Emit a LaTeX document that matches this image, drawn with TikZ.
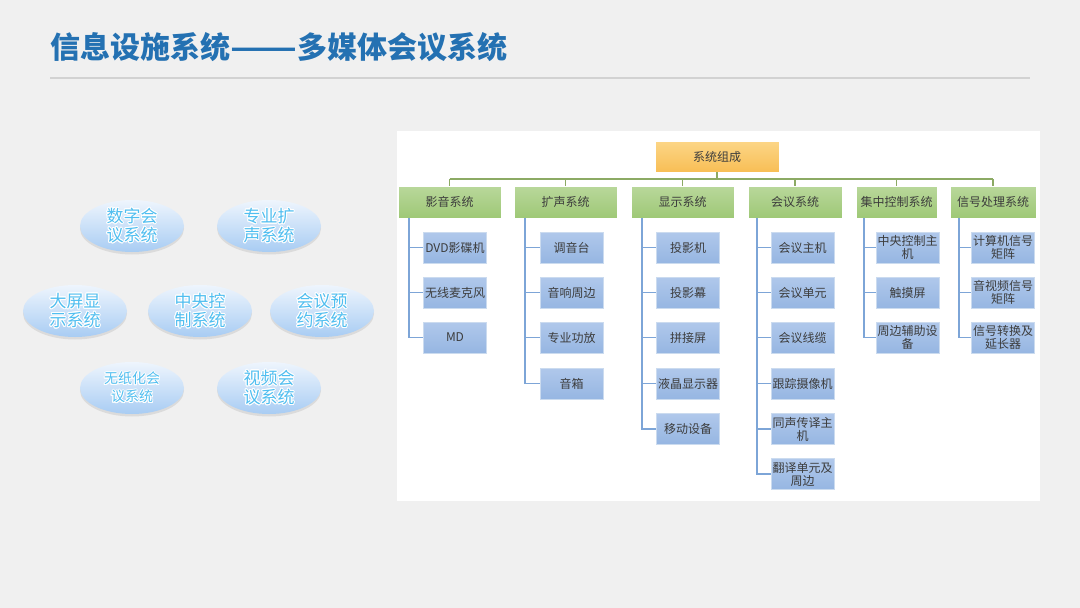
\documentclass[tikz,border=0pt]{standalone}
\usepackage{fontspec}
\setmainfont{Noto Sans CJK SC}
\usepackage{contour}
\contourlength{0.9pt}
\usepackage{tikz}
\usetikzlibrary{shapes.geometric, shadows}
\usepackage{xcolor}

\definecolor{pagegray}{RGB}{240,240,240}
\definecolor{titleblue}{RGB}{36,113,178}
\definecolor{rulegray}{RGB}{210,210,210}
\definecolor{textgray}{RGB}{60,60,60}
\definecolor{busgreen}{RGB}{140,170,100}
\definecolor{lineblue}{RGB}{125,165,215}
\definecolor{bubbletext}{RGB}{80,190,240}

\tikzset{
  rootbox/.style={draw=white, top color={rgb,255:red,252;green,214;blue,135}, bottom color={rgb,255:red,248;green,190;blue,85}, minimum width=124pt, minimum height=31pt, inner sep=0pt, text=textgray, font=\fontsize{12}{13}\selectfont},
  sysbox/.style={draw=white, top color={rgb,255:red,185;green,216;blue,155}, bottom color={rgb,255:red,158;green,200;blue,118}, minimum height=32pt, inner sep=0pt, text=textgray, font=\fontsize{12}{13}\selectfont},
  leafbox/.style={draw=white!60!lineblue, top color={rgb,255:red,176;green,200;blue,235}, bottom color={rgb,255:red,150;green,182;blue,226}, minimum width=63pt, minimum height=31pt, inner sep=0pt, align=center, text=textgray, font=\fontsize{12}{13}\selectfont},
  busline/.style={draw=busgreen, line width=1.2pt},
  leafline/.style={draw=lineblue, line width=1.2pt},
  bubble/.style={ellipse, draw=none, top color={rgb,255:red,238;green,245;blue,253}, bottom color={rgb,255:red,168;green,204;blue,243}, minimum width=104pt, minimum height=52pt, inner sep=0pt, align=center, text=bubbletext, font=\fontsize{17}{19}\selectfont, drop shadow={shadow xshift=0pt, shadow yshift=-2.5pt, opacity=0.18}}
}

\begin{document}
\begin{tikzpicture}[x=1pt,y=1pt,yscale=-1,xscale=1]
\useasboundingbox (0,0) rectangle (1080,608);

%Shape: Background
\fill[pagegray] (0,0) rectangle (1080,608);

% Title
\node[anchor=west, inner sep=0pt, text=titleblue, font=\fontsize{30}{32}\selectfont\bfseries] (title) at (50,47) {信息设施系统\scalebox{1.3}[1]{——}多媒体会议系统};
%Straight Lines: rule under title
\draw[rulegray, line width=1.5pt] (50,78) -- (1030,78);

%Ellipses: subsystems
\node[bubble] (szhy) at (132,226) {\contour{white}{数字会}\\\contour{white}{议系统}};
\node[bubble] (zykg) at (269,226) {\contour{white}{专业扩}\\\contour{white}{声系统}};
\node[bubble] (dpxs) at (75,311) {\contour{white}{大屏显}\\\contour{white}{示系统}};
\node[bubble] (zykz) at (200,311) {\contour{white}{中央控}\\\contour{white}{制系统}};
\node[bubble] (hyyy) at (322,311) {\contour{white}{会议预}\\\contour{white}{约系统}};
\node[bubble, font=\fontsize{14}{18}\selectfont] (wzh) at (132,388) {\contour{white}{无纸化会}\\\contour{white}{议系统}};
\node[bubble] (sphy) at (269,388) {\contour{white}{视频会}\\\contour{white}{议系统}};

%Shape: white panel of the chart
\fill[white] (397,131) rectangle (1040,501);

% Root
\node[rootbox] (root) at (717,156.5) {系统组成};

% Level 1
\node[sysbox, minimum width=103pt] (ys) at (449.5,202) {影音系统};
\node[sysbox, minimum width=103pt] (ks) at (565.5,202) {扩声系统};
\node[sysbox, minimum width=103pt] (xs) at (682.5,202) {显示系统};
\node[sysbox, minimum width=94pt] (hy) at (795,202) {会议系统};
\node[sysbox, minimum width=81pt] (jz) at (896.5,202) {集中控制系统};
\node[sysbox, minimum width=86pt] (xh) at (993,202) {信号处理系统};

%Bus between root and level 1
\coordinate (bus) at (717,179);
\draw[busline] (root.south) -- (root.south |- bus);
\draw[busline] (ys.north |- bus) -- (xh.north |- bus);
\draw[busline] (ys.north) -- (ys.north |- bus);
\draw[busline] (ks.north) -- (ks.north |- bus);
\draw[busline] (xs.north) -- (xs.north |- bus);
\draw[busline] (hy.north) -- (hy.north |- bus);
\draw[busline] (jz.north) -- (jz.north |- bus);
\draw[busline] (xh.north) -- (xh.north |- bus);

% Leaves: 影音系统
\node[leafbox] (ys1) at (455,247.5) {DVD影碟机};
\node[leafbox] (ys2) at (455,292.5) {无线麦克风};
\node[leafbox] (ys3) at (455,337.5) {MD};
% Leaves: 扩声系统
\node[leafbox] (ks1) at (571.5,247.5) {调音台};
\node[leafbox] (ks2) at (571.5,292.5) {音响周边};
\node[leafbox] (ks3) at (571.5,337.5) {专业功放};
\node[leafbox] (ks4) at (571.5,383.5) {音箱};
% Leaves: 显示系统
\node[leafbox] (xs1) at (688,247.5) {投影机};
\node[leafbox] (xs2) at (688,292.5) {投影幕};
\node[leafbox] (xs3) at (688,337.5) {拼接屏};
\node[leafbox] (xs4) at (688,383.5) {液晶显示器};
\node[leafbox] (xs5) at (688,429) {移动设备};
% Leaves: 会议系统
\node[leafbox] (hy1) at (802.5,247.5) {会议主机};
\node[leafbox] (hy2) at (802.5,292.5) {会议单元};
\node[leafbox] (hy3) at (802.5,337.5) {会议线缆};
\node[leafbox] (hy4) at (802.5,383.5) {跟踪摄像机};
\node[leafbox] (hy5) at (802.5,429) {同声传译主\\机};
\node[leafbox] (hy6) at (802.5,474) {翻译单元及\\周边};
% Leaves: 集中控制系统
\node[leafbox] (jz1) at (907.5,247.5) {中央控制主\\机};
\node[leafbox] (jz2) at (907.5,292.5) {触摸屏};
\node[leafbox] (jz3) at (907.5,337.5) {周边辅助设\\备};
% Leaves: 信号处理系统
\node[leafbox] (xh1) at (1003,247.5) {计算机信号\\矩阵};
\node[leafbox] (xh2) at (1003,292.5) {音视频信号\\矩阵};
\node[leafbox] (xh3) at (1003,337.5) {信号转换及\\延长器};

%Trunks of the leaf connectors
\coordinate (ysT) at (409,0);
\coordinate (ksT) at (525,0);
\coordinate (xsT) at (642,0);
\coordinate (hyT) at (757,0);
\coordinate (jzT) at (864,0);
\coordinate (xhT) at (959,0);

\draw[leafline] (ys.south -| ysT) |- (ys1.west);
\draw[leafline] (ys.south -| ysT) |- (ys2.west);
\draw[leafline] (ys.south -| ysT) |- (ys3.west);

\draw[leafline] (ks.south -| ksT) |- (ks1.west);
\draw[leafline] (ks.south -| ksT) |- (ks2.west);
\draw[leafline] (ks.south -| ksT) |- (ks3.west);
\draw[leafline] (ks.south -| ksT) |- (ks4.west);

\draw[leafline] (xs.south -| xsT) |- (xs1.west);
\draw[leafline] (xs.south -| xsT) |- (xs2.west);
\draw[leafline] (xs.south -| xsT) |- (xs3.west);
\draw[leafline] (xs.south -| xsT) |- (xs4.west);
\draw[leafline] (xs.south -| xsT) |- (xs5.west);

\draw[leafline] (hy.south -| hyT) |- (hy1.west);
\draw[leafline] (hy.south -| hyT) |- (hy2.west);
\draw[leafline] (hy.south -| hyT) |- (hy3.west);
\draw[leafline] (hy.south -| hyT) |- (hy4.west);
\draw[leafline] (hy.south -| hyT) |- (hy5.west);
\draw[leafline] (hy.south -| hyT) |- (hy6.west);

\draw[leafline] (jz.south -| jzT) |- (jz1.west);
\draw[leafline] (jz.south -| jzT) |- (jz2.west);
\draw[leafline] (jz.south -| jzT) |- (jz3.west);

\draw[leafline] (xh.south -| xhT) |- (xh1.west);
\draw[leafline] (xh.south -| xhT) |- (xh2.west);
\draw[leafline] (xh.south -| xhT) |- (xh3.west);

\end{tikzpicture}
\end{document}
